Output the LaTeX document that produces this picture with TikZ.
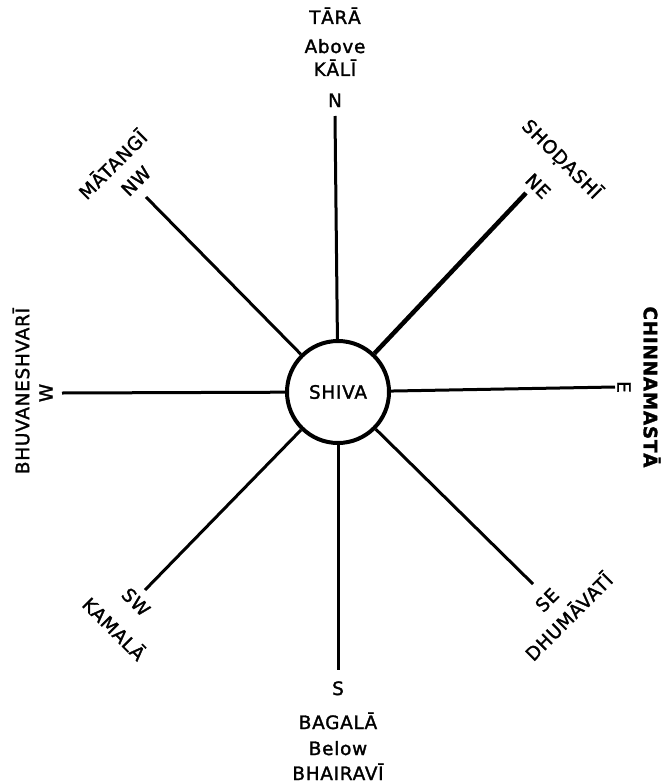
\documentclass[tikz,border=0pt]{standalone}
\usepackage{fontspec}
\setmainfont{DejaVu Sans}[LetterSpace=4, FakeBold=1.6]
\usetikzlibrary{positioning}

\begin{document}
\begin{tikzpicture}[x=1bp,y=-1bp,
  lbl/.style={font=\fontsize{18.5}{20}\selectfont, inner sep=0pt},
  spoke/.style={line width=3bp}]
  \useasboundingbox (0,0) rectangle (665,783);
  % Centre
  \node[draw, circle, line width=4bp, minimum size=102bp, lbl] (shiva) at (338,392) {SHIVA};
  % Ends of the spokes
  \coordinate (n) at (335,116);
  \coordinate (s) at (338,670);
  \coordinate (w) at (62,393);
  \coordinate (e) at (615,387);
  \coordinate (nw) at (146,197);
  \coordinate (ne) at (526,193);
  \coordinate (sw) at (145,590);
  \coordinate (se) at (533,584);
  % Spokes
  \draw[spoke] (shiva) -- (n);
  \draw[spoke] (shiva) -- (s);
  \draw[spoke] (shiva) -- (w);
  \draw[spoke] (shiva) -- (e);
  \draw[spoke] (shiva) -- (nw);
  \draw[spoke, line width=4.5bp] (shiva) -- (ne);
  \draw[spoke] (shiva) -- (sw);
  \draw[spoke] (shiva) -- (se);
  % North
  \node[lbl, anchor=base] (tara) at (335,24) {TĀRĀ};
  \node[lbl, anchor=base] (above) at (335,53) {Above};
  \node[lbl, anchor=base] (kali) at (335,76) {KĀLĪ};
  \node[lbl, anchor=base] (nlab) at (335,107) {N};
  % South
  \node[lbl, anchor=base] (slab) at (338,695) {S};
  \node[lbl, anchor=base] (bagala) at (338,729) {BAGALĀ};
  \node[lbl, anchor=base] (below) at (338,755) {Below};
  \node[lbl, anchor=base] (bhairavi) at (338,780) {BHAIRAVĪ};
  % West and east
  \node[lbl, rotate=90] (wlab) at (46,393) {W};
  \node[lbl, rotate=90] (bhuvaneshvari) at (21,391) {BHUVANESHVARĪ};
  \node[lbl, rotate=-90] (elab) at (624,387) {E};
  \node[lbl, rotate=-90, font=\fontsize{18.5}{20}\selectfont\bfseries] (chinnamasta) at (652,387) {CHINNAMASTĀ};
  % Diagonals
  \node[lbl, rotate=45] (nwlab) at (136,181) {NW};
  \node[lbl, rotate=45] (matangi) at (112,164) {MĀTANGĪ};
  \node[lbl, rotate=-45] (nelab) at (538,186) {NE};
  \node[lbl, rotate=-45] (shodashi) at (562,159) {SHOḌASHĪ};
  \node[lbl, rotate=-45] (swlab) at (136,602) {SW};
  \node[lbl, rotate=-45] (kamala) at (115,628) {KAMALĀ};
  \node[lbl, rotate=45] (selab) at (547,600) {SE};
  \node[lbl, rotate=45] (dhumavati) at (568,616) {DHUMĀVATĪ};
\end{tikzpicture}
\end{document}
